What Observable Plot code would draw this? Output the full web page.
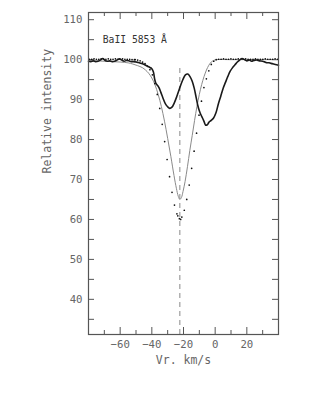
<!DOCTYPE html>
<html><head><meta charset="utf-8">
<script src="https://cdn.jsdelivr.net/npm/d3@7"></script>
<script src="https://cdn.jsdelivr.net/npm/@observablehq/plot@0.6"></script>
<style>html,body{margin:0;padding:0;background:#fff}#chart svg{display:block}</style>
</head><body><div id="chart"></div>
<script>
// Observed spectrum (thick line)
const obsV = [-80,-78.5,-77,-75.5,-74,-72.5,-71,-69.5,-68,-66.5,-65,-63.5,-62,-60.5,-59,-57.5,-56,-54.5,-53,-51.5,-50,-48.5,-47,-45.5,-44,-42.5,-41,-40,-39,-38.3,-37.5,-36.5,-35.5,-34.3,-33,-31.5,-30,-28.7,-27.3,-25.8,-24.3,-22.5,-20.5,-18.8,-17.3,-15.8,-14.5,-13.2,-12,-11,-10,-9,-8,-7,-6,-5,-4,-2.5,-1,0.5,2,3.5,5,6.5,8,9.5,11,12.5,14,15.5,17,18.5,20,21.5,23,24.5,26,28,30,32,34,36,38,40];
const obsI = [99.6,99.5,99.7,99.5,99.6,99.9,100.3,99.8,99.6,99.7,99.5,99.6,99.9,100.2,99.9,99.6,99.8,99.7,99.5,99.5,99.4,99.3,99.1,98.9,98.6,98.3,98.0,97.7,96.9,95.3,94.1,93.6,93.0,91.8,90.4,89.0,88.2,87.8,88.1,89.2,90.7,92.8,94.9,96.2,96.4,95.7,94.6,92.8,90.5,88.6,87.2,86.2,85.4,84.5,83.6,83.7,84.3,84.8,85.4,86.7,88.9,90.8,92.8,94.3,95.8,97.1,98.0,98.7,99.4,99.9,100.3,100.0,99.7,99.9,99.6,99.8,99.9,99.7,99.6,99.3,99.2,99.0,98.8,98.6];

// Model profile (thin gray line)
const modV = [-80,-75,-70,-65,-60,-55,-52,-49,-46,-44,-42,-40,-38,-36,-34,-32,-30,-28,-26,-24.5,-23.3,-22.3,-21.3,-20.3,-19,-17.5,-16,-14.5,-13,-11.5,-10,-8.5,-7,-5.5,-4,-2.5,-1,1,10,20,30,40];
const modI = [99.8,99.7,99.6,99.5,99.4,99.2,98.9,98.5,98.0,97.4,96.6,95.4,93.7,91.3,88.3,84.6,80.3,75.8,71.0,67.8,65.8,65.0,65.5,67.0,69.5,73.2,77.3,81.0,84.8,88.3,91.3,93.8,95.8,97.4,98.6,99.4,99.8,100,100,100,100,100];

// Second profile (dots)
const dotV = [-79.5,-78,-76.5,-75,-73.5,-72,-70.5,-69,-67.5,-66,-64.5,-63,-61.5,-60,-58.5,-57,-55.5,-54,-52.5,-51,-50.5,-48.95,-47.4,-45.85,-44.3,-42.75,-41.2,-39.65,-38.1,-36.55,-35.0,-33.45,-31.9,-30.35,-28.8,-27.25,-25.7,-24.15,-23.6,-22.6,-21.8,-21.05,-19.5,-17.95,-16.4,-14.85,-13.3,-11.75,-10.2,-8.65,-7.1,-5.55,-4.0,-2.45,-0.9,0.65,2.2,3.75,5.3,6.85,8.4,9.95,11.5,13.05,14.6,16.15,17.7,19.25,20.8,22.35,23.9,25.45,27,28.55,30.1,31.65,33.2,34.75,36.3,37.85,39.4];
const dotI = [100.1,100.1,100.2,100.1,100.1,100.2,100.1,100.1,100.2,100.1,100.1,100.2,100.1,100.1,100.2,100.1,100.1,100.1,100.0,100.0,100.0,99.9,99.7,99.4,99.0,98.4,97.5,96.2,94.0,91.3,87.8,83.8,79.5,75.0,70.7,66.8,63.6,61.4,60.9,60.2,60.0,60.6,62.3,65.0,68.6,72.8,77.1,81.6,86.1,89.6,93.0,95.2,97.2,98.8,99.6,100.0,100.1,100.1,100.2,100.1,100.1,100.2,100.1,100.1,100.2,100.1,100.1,100.2,100.1,100.1,100.1,100.2,100.1,100.1,100.1,100.2,100.1,100.1,100.1,100.2,100.1];

// Reference velocity (dashed)
const dashV = [-22.3];
const dashTop = [97.8];

// Axes
const xDomain = [-80, 40];
const yDomain = [31.2, 111.8];
const xMajor = [-60, -40, -20, 0, 20];
const xMinor = [-70, -50, -30, -10, 10, 30];
const yTicks = [35, 40, 45, 50, 55, 60, 65, 70, 75, 80, 85, 90, 95, 100, 105, 110];
const yLabels = [40, 50, 60, 70, 80, 90, 100, 110];
const xTitle = "Vr. km/s";
const yTitle = "Relative intensity";
const annotText = ["BaII 5853 Å"];
const annotX = [-71];
const annotY = [104.9];

const obs = obsV.map((v, i) => ({v, I: obsI[i]}));
const mod = modV.map((v, i) => ({v, I: modI[i]}));
const dots = dotV.map((v, i) => ({v, I: dotI[i]}));
const dash = dashV.map((v, i) => ({v, top: dashTop[i], bottom: yDomain[0]}));
const annot = annotText.map((t, i) => ({t, x: annotX[i], y: annotY[i]}));

const W = 315, H = 407, mL = 88, mR = 37, mT = 12, mB = 73;
const fw = W - mL - mR, fh = H - mT - mB;
const axisColor = "#555";
const textColor = "#666";
const mono = "'DejaVu Sans Mono', monospace";
const minus = d => d < 0 ? "\u2212" + (-d) : String(d);

const chart = Plot.plot({
  width: W, height: H,
  marginLeft: mL, marginRight: mR, marginTop: mT, marginBottom: mB,
  style: {fontFamily: mono, fontSize: "10.7px", color: textColor, background: "#fff", overflow: "visible"},
  x: {domain: xDomain, axis: null},
  y: {domain: yDomain, axis: null},
  marks: [
    Plot.axisX({ticks: xMajor, tickSize: 0, tickPadding: 6, label: null, tickFormat: minus, fill: textColor}),
    Plot.axisY({ticks: yLabels, tickSize: 0, tickPadding: 6, label: null, fill: textColor}),
    Plot.tickX(xMajor, {stroke: axisColor, insetTop: fh - 7}),
    Plot.tickX(xMinor, {stroke: axisColor, insetTop: fh - 4}),
    Plot.tickX(xMajor, {stroke: axisColor, insetBottom: fh - 7}),
    Plot.tickX(xMinor, {stroke: axisColor, insetBottom: fh - 4}),
    Plot.tickY(yTicks, {stroke: axisColor, insetRight: fw - 6}),
    Plot.tickY(yTicks, {stroke: axisColor, insetLeft: fw - 6}),
    Plot.ruleX(dash, {x: "v", y1: "bottom", y2: "top", stroke: "#888", strokeWidth: 1, strokeDasharray: "5,4"}),
    Plot.line(mod, {x: "v", y: "I", stroke: "#8a8a8a", strokeWidth: 1, curve: "catmull-rom"}),
    Plot.dot(dots, {x: "v", y: "I", r: 0.85, fill: "#111", stroke: "none"}),
    Plot.line(obs, {x: "v", y: "I", stroke: "#1a1a1a", strokeWidth: 1.6, curve: "catmull-rom"}),
    Plot.text(annot, {x: "x", y: "y", text: "t", textAnchor: "start", fontSize: 9.7, fill: "#333"}),
    Plot.text([xTitle], {frameAnchor: "bottom", dy: 26, fontSize: 11.5, fill: textColor, lineAnchor: "middle"}),
    Plot.text([yTitle], {frameAnchor: "left", dx: -41, rotate: -90, fontSize: 11.5, fill: textColor, lineAnchor: "middle"}),
    Plot.frame({stroke: axisColor, strokeWidth: 1.2})
  ]
});
document.getElementById("chart").appendChild(chart);
</script>
</body></html>
